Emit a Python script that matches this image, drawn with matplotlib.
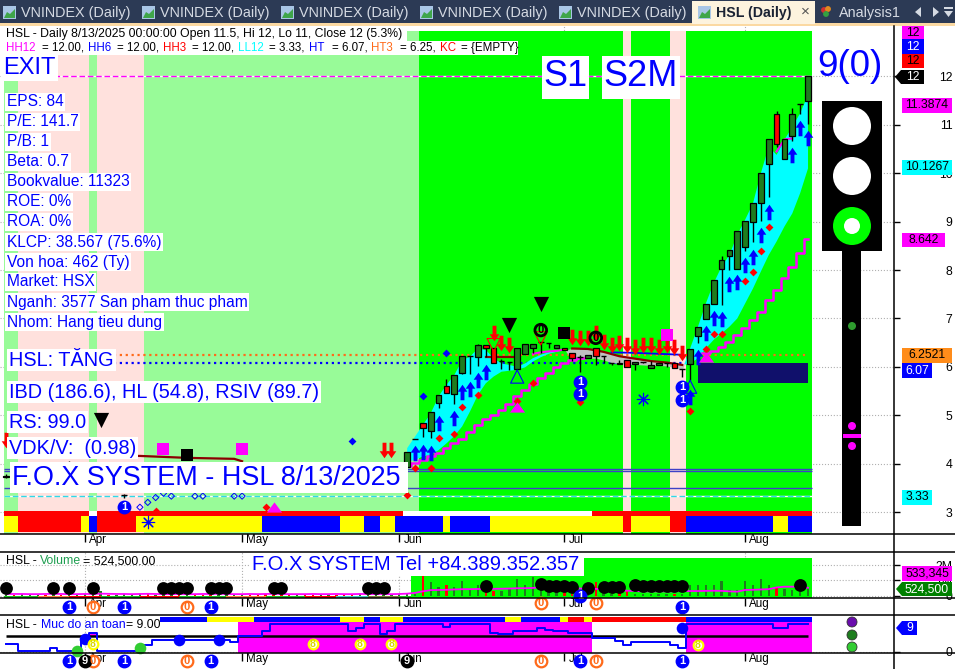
import numpy as np
import matplotlib
matplotlib.use("Agg")
import matplotlib.pyplot as plt
from matplotlib.patches import Rectangle, Circle, Polygon
from matplotlib.transforms import ScaledTranslation

plt.rcParams['font.family'] = ['Liberation Sans', 'DejaVu Sans']

# bars, oldest first (index 0 .. 102)
opens = [3.72,3.75,3.70,3.68,3.70,3.72,3.70,3.75,3.80,3.74,3.80,3.82,3.85,3.90,3.78,3.35,
         3.50,3.55,3.60,3.58,3.62,3.65,3.68,3.66,3.70,3.68,3.66,3.64,3.66,3.68,3.70,3.72,
         3.70,3.68,3.66,3.64,3.62,3.60,3.62,3.60,3.58,3.60,3.62,3.60,3.58,3.56,3.58,3.60,
         3.62,3.65,3.70,
         3.94,4.52,4.85,4.68,5.26,5.60,5.44,5.88,6.22,6.21,6.45,6.38,6.12,6.11,5.95,6.27,
         6.38,6.52,6.49,6.38,6.38,6.28,6.20,6.19,6.38,6.22,6.09,6.09,6.14,6.05,6.11,5.98,
         6.03,6.07,6.09,5.95,6.05,6.63,6.98,7.29,8.03,8.30,8.03,8.48,9.00,9.38,10.20,11.22,
         10.30,10.76,11.44,11.50]
closes = [3.75,3.70,3.72,3.70,3.72,3.70,3.75,3.72,4.02,3.80,3.82,3.85,4.00,3.78,3.80,3.35,
          3.55,3.60,3.58,3.62,3.65,3.68,3.66,3.70,3.68,3.66,3.64,3.66,3.68,3.70,3.72,3.70,
          3.68,3.66,3.64,3.62,3.60,3.62,3.60,3.58,3.60,3.62,3.60,3.58,3.56,3.58,3.60,3.62,
          3.65,3.70,3.75,
          4.24,4.52,4.73,5.06,5.41,5.47,5.83,6.22,6.22,6.45,6.38,6.09,6.12,6.11,6.38,6.48,
          6.48,6.52,6.49,6.45,6.34,6.18,6.20,6.24,6.22,6.22,6.09,6.05,6.00,6.11,6.11,6.03,
          6.07,6.07,5.98,5.95,6.36,6.83,7.29,7.79,8.20,8.41,8.80,9.01,9.38,10.00,10.70,10.60,
          10.70,11.22,11.44,12.00]
highs = [3.78,3.78,3.74,3.72,3.74,3.74,3.78,3.78,4.05,3.84,3.86,3.90,4.04,3.93,3.84,3.38,
         3.58,3.63,3.63,3.65,3.68,3.70,3.70,3.72,3.72,3.70,3.68,3.68,3.70,3.72,3.74,3.74,
         3.72,3.70,3.68,3.66,3.64,3.64,3.64,3.62,3.62,3.64,3.64,3.62,3.60,3.60,3.62,3.64,
         3.68,3.72,3.78,
         4.24,4.52,4.85,5.06,5.41,5.75,5.83,6.22,6.22,6.47,6.45,6.38,6.16,6.11,6.38,6.48,
         6.48,6.52,6.49,6.45,6.38,6.28,6.25,6.24,6.38,6.22,6.09,6.14,6.14,6.11,6.11,6.12,
         6.07,6.07,6.09,5.95,6.36,6.83,7.29,7.79,8.29,8.41,8.80,9.01,9.38,10.00,10.70,11.28,
         10.70,11.34,11.44,12.00]
lows = [3.70,3.68,3.68,3.66,3.68,3.68,3.68,3.70,3.78,3.72,3.78,3.80,3.83,3.76,3.76,3.30,
        3.48,3.53,3.56,3.56,3.60,3.63,3.64,3.64,3.66,3.64,3.62,3.62,3.64,3.66,3.68,3.68,
        3.66,3.64,3.62,3.60,3.58,3.58,3.58,3.56,3.56,3.58,3.58,3.56,3.54,3.54,3.56,3.58,
        3.60,3.63,3.68,
        3.94,4.52,4.56,4.54,5.16,5.47,5.23,5.85,5.85,6.02,6.20,6.09,5.96,5.94,5.95,6.27,
        6.28,6.28,6.38,6.38,6.34,6.12,5.89,6.19,6.04,6.07,6.04,6.05,6.00,5.94,6.07,5.98,
        6.03,5.99,5.98,5.80,5.73,6.50,6.98,7.29,7.28,8.00,8.03,8.39,8.57,9.02,9.52,10.54,
        10.30,10.67,11.23,11.02]

# cloud, starts at bar 51
cloud_start = 51
cloud_fast = [4.32,4.56,4.80,5.04,5.39,5.63,5.83,6.14,6.21,6.38,6.35,6.18,6.07,6.04,6.00,6.07,
              6.18,6.25,6.30,6.33,6.36,
              6.14,6.16,6.18,6.18,6.14,6.09,6.07,6.06,6.05,6.04,6.03,6.03,6.02,5.99,5.94,
              6.38,6.83,7.31,7.73,8.07,8.31,8.73,9.04,9.38,10.00,10.55,10.38,10.69,10.96,11.24,11.62]
cloud_slow = [4.04,4.08,4.15,4.18,4.28,4.42,4.57,4.77,5.08,5.42,5.66,5.80,5.90,5.92,5.94,5.99,
              6.11,6.20,6.27,6.31,6.35,
              6.38,6.38,6.37,6.35,6.31,6.27,6.22,6.20,6.17,6.14,6.12,6.11,6.09,6.07,6.04,
              6.07,6.18,6.38,6.56,6.69,6.83,7.00,7.31,7.62,7.97,8.31,8.59,8.90,9.17,9.59,10.10]

# stair line, same start as the cloud
stair = [3.95,4.01,4.08,4.15,4.23,4.32,4.42,4.50,4.66,4.80,4.92,5.01,5.11,5.23,5.39,5.52,5.65,
         5.76,5.87,6.00,6.07,6.14,6.18,
         np.nan,np.nan,np.nan,np.nan,np.nan,np.nan,np.nan,np.nan,np.nan,np.nan,np.nan,np.nan,np.nan,np.nan,np.nan,
         6.29,6.32,6.42,6.52,6.66,6.80,6.97,7.14,7.38,7.59,7.83,8.07,8.36,8.64]

brown_x = [1,8,17,23,29,30]
brown_y = [4.18,4.17,4.16,4.12,4.10,4.05]
brown2_x = [61,62,63,64,65]
brown2_y = [6.21,6.21,6.21,6.21,6.21]
brown3_x = [72,74,76,78,80,82,84,86]
brown3_y = [6.38,6.37,6.31,6.22,6.17,6.12,6.09,6.04]
top_ma_x = [67,68,69,70,71,98,99,100]
top_ma_y = [6.27,6.30,6.32,6.33,6.36,10.45,10.70,10.72]
blue_line_x = [77,80,83,86]
blue_line_y = [6.30,6.29,6.27,6.25]

hi_level = 12.0
orange_level = 6.25
blue_level = 6.07
ll12_level = 3.33
thin_levels = [3.89,3.84,3.50]
navy_x = [88,102]
navy_lo = 5.67
navy_hi = 6.07

# signal markers
up_arrow_x = [52,53,54,55,57,58,59,60,61,87,88,89,90,91,92,93,94,95,96,97,100,101,102]
up_arrow_y = [4.23,4.25,4.23,4.85,4.94,5.49,5.55,5.72,5.90,5.38,6.20,6.69,7.00,6.98,7.71,7.75,8.10,8.27,8.72,9.21,10.37,10.93,10.72]
down_arrow_x = [0,48,49,62,63,64,72,73,74,75,76,77,78,79,80,81,82,83,84,85,86]
down_arrow_y = [4.49,4.28,4.28,6.69,6.49,6.45,6.62,6.59,6.59,6.69,6.52,6.45,6.49,6.45,6.42,6.45,6.45,6.42,6.45,6.42,6.29]
red_dot_x = [19,33,51,52,54,55,57,58,60,65,67,73,87,89,90,91,94,95,96,97]
red_dot_y = [3.02,3.10,3.35,3.92,3.92,4.53,4.61,5.18,5.41,5.30,5.67,5.28,5.08,6.37,6.68,6.67,7.78,7.95,8.40,8.90]
blue_dot_x = [44,53,56]
blue_dot_y = [4.47,5.39,6.29]
hollow_x = [17,18,19,20,21,24,25,29,30]
hollow_y = [3.10,3.20,3.30,3.39,3.33,3.33,3.33,3.33,3.33]
mag_tri_x = [34,65,89]
mag_tri_y = [3.10,5.18,6.21]
blue_tri_x = [65,87]
blue_tri_y = [5.80,5.59]
red_tri_x = [62,68]
red_tri_y = [6.45,6.59]
black_tri_x = [12,64,68]
black_tri_y = [4.90,6.87,7.30]
black_sq_x = [23,71]
black_sq_y = [4.18,6.71]
mag_sq_x = [20,30,84]
mag_sq_y = [4.30,4.30,6.66]
one_x = [15,73,73,86,86]
one_y = [3.10,5.69,5.43,5.59,5.32]
zero_x = [68,75]
zero_y = [6.76,6.60]
star_x = [18,81]
star_y = [2.80,5.33]

# volume in millions
volumes = [0.08,0.06,0.10,0.07,0.05,0.09,0.12,0.06,0.08,0.05,0.10,0.07,0.30,0.08,0.06,0.10,0.07,
           0.12,0.15,0.08,0.06,0.05,0.09,0.07,0.06,0.08,0.10,0.12,0.09,0.07,0.06,0.08,0.05,0.10,
           0.12,0.08,0.07,0.06,0.05,0.09,0.06,0.07,0.08,0.05,0.06,0.10,0.08,0.07,0.09,0.06,0.10,
           0.15,0.10,1.30,0.90,0.60,0.70,0.60,0.95,0.40,0.70,0.24,0.32,0.32,0.50,1.10,0.70,1.20,
           0.90,0.80,0.60,0.20,0.15,0.20,0.30,0.90,0.20,0.15,0.30,0.30,0.15,0.10,0.15,0.10,0.10,
           0.10,0.15,0.70,0.70,0.70,0.70,0.97,0.39,0.39,0.97,0.70,1.10,0.70,0.50,0.45,0.39,0.24,0.52]
vol_ma = [0.13,0.13,0.13,0.12,0.12,0.13,0.14,0.13,0.12,0.12,0.13,0.13,0.15,0.14,0.13,0.13,0.12,
          0.13,0.14,0.13,0.12,0.12,0.13,0.12,0.12,0.13,0.13,0.14,0.13,0.12,0.12,0.13,0.12,0.13,
          0.14,0.13,0.12,0.12,0.12,0.13,0.12,0.12,0.13,0.12,0.12,0.13,0.13,0.12,0.13,0.12,0.13,
          0.15,0.20,0.30,0.38,0.39,0.40,0.42,0.44,0.44,0.45,0.45,0.46,0.47,0.48,0.50,0.50,0.52,
          0.55,0.56,0.58,0.55,0.50,0.48,0.46,0.46,0.42,0.38,0.36,0.34,0.32,0.30,0.30,0.30,0.30,
          0.30,0.32,0.32,0.32,0.33,0.34,0.33,0.30,0.28,0.39,0.40,0.42,0.44,0.55,0.60,0.60,0.58,0.53]
vol_dot_x = [0,6,8,11,20,21,22,23,26,27,28,34,35,46,47,48,61,68,69,70,71,72,74,76,77,78,80,81,82,83,84,85,86,101]
vol_dot_y = [0.52,0.52,0.52,0.52,0.52,0.52,0.52,0.52,0.52,0.52,0.52,0.52,0.52,0.52,0.52,0.52,
             0.65,0.75,0.65,0.65,0.65,0.60,0.52,0.60,0.60,0.60,0.70,0.65,0.65,0.65,0.65,0.65,0.65,0.72]

# safety level
muc = [2.4,2.4,0.2,0.2,0.2,0.2,1.3,0.2,0.2,0.2,4.3,6.3,0.2,0.2,0.2,0.2,0.2,0.2,2.1,4.0,4.0,4.0,
       4.0,4.0,4.0,4.0,4.0,4.0,4.0,3.2,5.2,5.2,5.2,6.8,9,9,9,9,9,9,9,9,9,9,6.8,7.7,9,9,5.9,6.8,9,
       9,9,9,9,9,8,9,9,9,9,9,6.1,5.7,5.7,6.8,6.8,6.8,7.9,7.0,6.8,6.8,6.1,6.1,6.1,4.4,4.4,4.4,3.5,
       2.2,3.3,3.3,3.3,3.3,3.3,2.2,1.1,9,9,9,9,9,9,9,9,9,9,9,7.9,7.9,9,9,9]
muc_level = 5.2
muc_big_x = [10,22,27,86]
muc_big_y = [4.3,4.0,4.0,7.7]
muc_green_x = [9,17]
muc_green_y = [0.2,1.3]
muc_eight_x = [11,39,45,49,88]
muc_eight_y = [2.4,2.4,2.4,2.4,2.2]

month_pos = [10,30,50,71,94]
month_lab = ['Apr','May','Jun','Jul','Aug']
price_ticks = [3,4,5,6,7,8,9,10,11,12]

PINK = '#FFE1DD'
PALE = '#98FB98'
LIME = '#00FF00'
YEL = '#FFFF00'
BLUE = '#0000FF'
RED = '#FF0000'
MAG = '#FF00FF'
ORANGE = '#FF6A1A'

band_edges = [-0.3,1.5,10.5,11.5,17.5,52.5,78.5,79.5,84.5,86.5,102.5]
band_colors = [PALE,PINK,PALE,PINK,PALE,LIME,PINK,LIME,PINK,LIME]
strip1_edges = [-0.3,10.5,11.5,50.5,74.5,102.5]
strip1_colors = [RED,'white',RED,'white',RED]
strip2_edges = [-0.3,1.5,9.5,10.5,11.5,16.5,32.5,42.5,45.5,47.5,49.5,55.5,56.5,61.5,78.5,79.5,84.5,86.5,97.5,99.5,102.5]
strip2_colors = [YEL,RED,YEL,BLUE,RED,YEL,BLUE,YEL,BLUE,YEL,BLUE,YEL,BLUE,YEL,RED,YEL,RED,BLUE,YEL,BLUE]
vol_strip_edges = [-0.3,4,8,12,17,22,28,33,38,42,46,50,51.5]
vol_strip_colors = ['#1FBF1F','#FF8040',RED,'#1FBF1F',RED,'#1FBF1F','#FF8040','#1FBF1F',RED,'#40D0C0','#808040','#1FBF1F']
muc_ribbon_edges = [19.5,25.5,31.5,42.5,45.5,47.5,50.5,63.5,65.5,70.5,71.5,73.5,74.5,86.5,102.5]
muc_ribbon_colors = [BLUE,YEL,BLUE,YEL,BLUE,YEL,BLUE,YEL,BLUE,YEL,RED,YEL,RED,BLUE]
muc_fill_edges = [29.5,74.5,86.5,102.5]
muc_fill_colors = [MAG,'white',MAG]

ARROW_UP = [(0,1),(0.62,0.1),(0.25,0.1),(0.25,-1),(-0.25,-1),(-0.25,0.1),(-0.62,0.1)]
ARROW_DOWN = [(x,-y) for x,y in ARROW_UP]
FLAT_TRI = [(-1,-0.67),(1,-0.67),(0,0.67)]

W, H = 955, 669
fig = plt.figure(figsize=(W/100, H/100), dpi=100)
label_shift = ScaledTranslation(3/72, 0, fig.dpi_scale_trans)


def panel(top, bottom):
    ax = fig.add_axes([0, 1-bottom/H, 894/W, (bottom-top)/H])
    ax.set_xlim(-0.80, 112.94)
    for s in ax.spines.values():
        s.set_visible(False)
    ax.yaxis.tick_right()
    ax.set_axisbelow(True)
    ax.grid(ls=':', color='#B0B0B0', lw=0.8)
    ax.set_xticks(month_pos)
    ax.set_xticklabels(month_lab)
    ax.tick_params(axis='x', length=6, width=1, labelsize=8.4, pad=-6)
    for t in ax.get_xticklabels():
        t.set_ha('left')
        t.set_transform(t.get_transform() + label_shift)
    return ax


def runs(ax, edges, colors, y0, y1, z=1):
    for i in range(len(colors)):
        ax.bar(edges[i], y1-y0, width=edges[i+1]-edges[i], bottom=y0, align='edge',
               color=colors[i], lw=0, zorder=z)


def digits(ax, x, y, txt, fc, ec, tc, s=70, fs=8, lw=1.6, trans=None, z=8):
    kw = dict(clip_on=False, zorder=z)
    if trans is not None:
        kw['transform'] = trans
    ax.scatter(x, y, s=s, c=fc, edgecolors=ec, linewidths=lw, **kw)
    for a, b in zip(x, y):
        ax.text(a, b, txt, color=tc, fontsize=fs, fontweight='bold', ha='center', va='center',
                clip_on=False, zorder=z+1, **({'transform': trans} if trans is not None else {}))


# ------ price panel
ax = panel(26, 534)
ax.set_ylim(2.547, 13.043)
ax.set_yticks(price_ticks)
ax.tick_params(axis='y', length=4, labelsize=8.8, pad=38, width=1)
for t in ax.get_yticklabels():
    t.set_ha('right')
runs(ax, band_edges, band_colors, 2.55, 12.94)
runs(ax, strip1_edges, strip1_colors, 2.92, 3.02, z=2)
runs(ax, strip2_edges, strip2_colors, 2.59, 2.92, z=2)

ax.hlines(hi_level, -0.3, 102.5, color='white', lw=1, zorder=2)
ax.hlines(hi_level, -0.3, 102.5, color=MAG, lw=1, ls=(0, (4, 2)), zorder=2)
ax.hlines(ll12_level, -0.3, 102.5, color='white', lw=1, zorder=2)
ax.hlines(ll12_level, -0.3, 102.5, color='#30D8E8', lw=1, ls=(0, (4, 2)), zorder=2)
ax.hlines(thin_levels, -0.3, 102.5, color='#4040C8', lw=1, zorder=2)
ax.hlines(orange_level, 13, 102, color=ORANGE, lw=1.6, ls=':', zorder=2)
ax.hlines(blue_level, 13, 88, color=BLUE, lw=1.6, ls=':', zorder=2)
ax.bar(navy_x[0], navy_hi-navy_lo, width=navy_x[1]-navy_x[0], bottom=navy_lo, align='edge', color='#10106B', lw=0, zorder=3)

xs = np.arange(len(closes))
cx = xs[cloud_start:]
fast = np.array(cloud_fast)
slow = np.array(cloud_slow)
ax.fill_between(cx, fast, slow, where=fast >= slow, color='#00FFFF', lw=0, zorder=3, interpolate=True)
ax.fill_between(cx, fast, slow, where=fast <= slow, color='#C0C0C0', lw=0, zorder=3, interpolate=True)
ax.plot(cx, stair, color=MAG, lw=1.8, drawstyle='steps-mid', zorder=4)
ax.plot(top_ma_x[:5], top_ma_y[:5], color=MAG, lw=1.5, zorder=4)
ax.plot(top_ma_x[5:], top_ma_y[5:], color=MAG, lw=1.5, zorder=4)
ax.plot(brown_x, brown_y, color='#8B0000', lw=1.6, zorder=4)
ax.plot(brown2_x, brown2_y, color='#8B0000', lw=1.6, zorder=4)
ax.plot(brown3_x, brown3_y, color='#8B0000', lw=1.6, zorder=4)
ax.plot(blue_line_x, blue_line_y, color=BLUE, lw=1.3, zorder=4)

# candles
for i in xs:
    o, h, l, c = opens[i], highs[i], lows[i], closes[i]
    ax.vlines(i, l, h, color='black', lw=1, zorder=5)
    if abs(c-o) < 0.005:
        ax.hlines(c, i-0.36, i+0.36, color='black', lw=1, zorder=5)
    else:
        col = '#1E7D1E' if c > o else RED
        ax.bar(i, abs(c-o), width=0.72, bottom=min(o, c), color=col, edgecolor='black', lw=0.9, zorder=5)

ax.scatter(up_arrow_x, up_arrow_y, marker=ARROW_UP, s=125, c=BLUE, lw=0, zorder=6)
ax.scatter(down_arrow_x, down_arrow_y, marker=ARROW_DOWN, s=125, c=RED, lw=0, zorder=6)
ax.scatter(red_dot_x, red_dot_y, marker='D', s=16, c=RED, lw=0, zorder=6, clip_on=False)
ax.scatter(blue_dot_x, blue_dot_y, marker='D', s=16, c=BLUE, lw=0, zorder=6)
ax.scatter(hollow_x, hollow_y, marker='D', s=10, facecolors='none', edgecolors=BLUE, lw=0.7, zorder=6)
ax.scatter(mag_tri_x, mag_tri_y, marker=FLAT_TRI, s=120, c=MAG, lw=0, zorder=6)
ax.scatter(blue_tri_x, blue_tri_y, marker='^', s=90, facecolors='none', edgecolors=BLUE, lw=0.8, zorder=6)
ax.scatter(red_tri_x, red_tri_y, marker='v', s=90, facecolors='none', edgecolors=RED, lw=0.8, zorder=6)
ax.scatter(black_tri_x, black_tri_y, marker='v', s=120, c='black', lw=0, zorder=6)
ax.scatter(black_sq_x, black_sq_y, marker='s', s=85, c='black', lw=0, zorder=6)
ax.scatter(mag_sq_x, mag_sq_y, marker='s', s=85, c=MAG, lw=0, zorder=6)
ax.scatter(star_x, star_y, marker=(8, 2, 0), s=80, c=BLUE, lw=0.8, zorder=6)
digits(ax, one_x, one_y, '1', BLUE, BLUE, 'white')
digits(ax, zero_x, zero_y, '0', 'none', 'black', 'black', lw=2)

# ------ volume panel
vx = panel(552, 598)
vx.set_ylim(-0.13, 2.84)
vx.set_yticks([0, 1, 2])
vx.set_yticklabels(['0', '1M', '2M'])
vx.tick_params(axis='y', length=4, labelsize=8.8, pad=38, width=1)
for t in vx.get_yticklabels():
    t.set_ha('right')
vx.bar(51.5, 2.55, width=51, bottom=-0.1, align='edge', color=LIME, lw=0, zorder=1)
runs(vx, vol_strip_edges, vol_strip_colors, -0.1, 0.0, z=2)
vol_col = ['#1E7D1E' if closes[i] >= opens[i] else RED for i in xs]
vx.bar(xs, volumes, width=0.3, color=vol_col, lw=0, zorder=3)
vx.plot(xs, vol_ma, color=MAG, lw=1.3, zorder=4)
vx.scatter(vol_dot_x, vol_dot_y, s=85, c='black', lw=0, zorder=5)

# ------ safety level panel
mx = panel(615, 653)
mx.set_ylim(-0.43, 12.11)
mx.set_yticks([0])
mx.tick_params(axis='y', length=4, labelsize=8.8, pad=38, width=1)
for t in mx.get_yticklabels():
    t.set_ha('right')
runs(mx, muc_fill_edges, muc_fill_colors, -0.43, 9.8)
runs(mx, muc_ribbon_edges, muc_ribbon_colors, 9.8, 11.45, z=2)
mx.bar(10.5, 1.3, width=1, bottom=5.2, align='edge', color=MAG, lw=0, zorder=2)
mx.hlines(muc_level, 0, 102, color='black', lw=1.8, zorder=3)
mx.plot(xs, muc, color=BLUE, lw=1.4, drawstyle='steps-mid', zorder=4)
mx.scatter(muc_big_x, muc_big_y, s=70, c=BLUE, lw=0, zorder=5)
mx.scatter(muc_green_x, muc_green_y, s=70, c='#32CD32', lw=0, zorder=5, clip_on=False)
digits(mx, muc_eight_x, muc_eight_y, '8', 'white', YEL, '#D8D800', s=48, fs=7.5)

# circles that sit on the date rows
row_vol = vx.get_xaxis_transform()
row_muc = mx.get_xaxis_transform()
digits(vx, [8,15,26,73], [-0.2,-0.2,-0.2,0.05], '1', BLUE, BLUE, 'white', trans=row_vol)
digits(vx, [11,23,68,75], [-0.2,-0.2,-0.1,-0.11], '0', 'white', ORANGE, ORANGE, trans=row_vol)
digits(vx, [86], [-0.2], '1', BLUE, BLUE, 'white', trans=row_vol)
digits(mx, [8,15,26,73,86], [-0.22]*5, '1', BLUE, BLUE, 'white', trans=row_muc)
digits(mx, [11,23,68,75], [-0.22]*4, '0', 'white', ORANGE, ORANGE, trans=row_muc)
digits(mx, [10,51], [-0.22]*2, '9', 'black', 'black', 'white', trans=row_muc)

# ------ window chrome and labels, in pixels
ch = fig.add_axes([0, 0, 1, 1], zorder=20)
ch.set_xlim(0, W)
ch.set_ylim(H, 0)
ch.axis('off')
ch.patch.set_alpha(0)


def box(x0, y0, x1, y1, color, z=1):
    ch.add_patch(Rectangle((x0, y0), x1-x0, y1-y0, fc=color, ec='none', zorder=z))


def label(x, y, s, fs=8.3, color='black', bg=None, pad=1.0, ha='left', weight='normal', z=5):
    bb = dict(fc=bg, ec='none', pad=pad) if bg else None
    ch.text(x, y, s, fontsize=fs, color=color, ha=ha, va='center', bbox=bb, fontweight=weight, zorder=z)


def icon(x):
    box(x, 6, x+13, 19, '#A9C6E6', z=3)
    ch.add_patch(Polygon([(x+1, 18), (x+4, 12), (x+7, 14), (x+12, 9), (x+12, 18)], fc='#3FA64A', ec='none', zorder=4))


# tabs
box(0, 0, W, 23, '#2C3A55')
box(0, 23, W, 26, '#FBD9A2')
for x in [3, 142, 281, 420, 559]:
    icon(x)
    label(x+18, 12.5, 'VNINDEX (Daily)', fs=10.4, color='#D5DAE3')
box(692, 1, 815, 24, '#FDF3DE', z=2)
icon(698)
label(716, 12.5, 'HSL (Daily)', fs=10.2, weight='bold', color='#1A2233')
label(805, 12, '×', fs=11, color='#555555', ha='center')
ch.scatter([824, 828, 826], [10, 9, 14], s=[18, 18, 18], c=['#D23030', '#E08A20', '#35A040'], lw=0, zorder=4)
label(839, 12.5, 'Analysis1', fs=10.4, color='#D5DAE3')
ch.add_patch(Polygon([(921, 7), (921, 17), (915, 12)], fc='#D5DAE3', ec='none', zorder=4))
ch.add_patch(Polygon([(933, 7), (933, 17), (939, 12)], fc='#D5DAE3', ec='none', zorder=4))
box(944, 7, 953, 9, '#D5DAE3', z=4)
ch.add_patch(Polygon([(944, 11), (953, 11), (948.5, 17)], fc='#D5DAE3', ec='none', zorder=4))

# panel rules
for y in [534, 552, 598, 615, 653]:
    ch.plot([0, W], [y, y], color='black', lw=1.1, zorder=2)
ch.plot([894, 894], [26, H], color='black', lw=1.1, zorder=2)

# header lines
box(4, 27, 407, 41, 'white', z=3)
label(6, 34, 'HSL - Daily 8/13/2025 00:00:00 Open 11.5, Hi 12, Lo 11, Close 12 (5.3%)', fs=8.8)
box(4, 41, 518, 55, 'white', z=3)
head_x = [6, 41.7, 88, 116.7, 163, 191.7, 238, 269.3, 309, 332, 371, 400, 440, 460.7]
head_s = ['HH12', '= 12.00,', 'HH6', '= 12.00,', 'HH3', '= 12.00,', 'LL12', '= 3.33,', 'HT', '= 6.07,', 'HT3', '= 6.25,', 'KC', '= {EMPTY}']
head_c = [MAG, 'black', BLUE, 'black', RED, 'black', '#00FFFF', 'black', BLUE, 'black', ORANGE, 'black', RED, 'black']
for a, b, c in zip(head_x, head_s, head_c):
    label(a, 48, b, color=c)

# big blue captions
label(3, 68, 'EXIT', fs=17, color=BLUE, bg='white', pad=1.5)
info = ['EPS: 84', 'P/E: 141.7', 'P/B: 1', 'Beta: 0.7', 'Bookvalue: 11323', 'ROE: 0%', 'ROA: 0%',
        'KLCP: 38.567 (75.6%)', 'Von hoa: 462 (Ty)', 'Market: HSX', 'Nganh: 3577 San pham thuc pham', 'Nhom: Hang tieu dung']
for n, s in enumerate(info):
    label(7, 102+20*n, s, fs=11.2, color=BLUE, bg='white', pad=1.2)
label(9, 360, 'HSL: TĂNG', fs=14.3, color=BLUE, bg='white', pad=1.5)
label(9, 392, 'IBD (186.6), HL (54.8), RSIV (89.7)', fs=14.3, color=BLUE, bg='white', pad=1.5)
label(9, 422, 'RS: 99.0', fs=14.3, color=BLUE, bg='white', pad=1.5)
label(9, 448, 'VDK/V:  (0.98)', fs=14.3, color=BLUE, bg='white', pad=1.5)
box(10, 462, 408, 493, 'white', z=3)
label(12, 478, 'F.O.X SYSTEM - HSL 8/13/2025', fs=19.4, color=BLUE)
box(542, 56, 589, 99, 'white', z=3)
label(565.5, 77, 'S1', fs=26, color=BLUE, ha='center')
box(602, 56, 680, 99, 'white', z=3)
label(641, 77, 'S2M', fs=26, color=BLUE, ha='center')
label(817, 67, '9(0)', fs=26.5, color=BLUE)
box(250, 553, 584, 576, 'white', z=3)
label(252, 565, 'F.O.X SYSTEM Tel +84.389.352.357', fs=14.5, color=BLUE)

# panel titles
label(6, 561, 'HSL -', fs=8.8)
label(40, 561, 'Volume', fs=8.8, color='#1E9E50')
label(83, 561, '= 524,500.00', fs=8.9)
label(6, 625, 'HSL -', fs=8.8)
label(41, 625, 'Muc do an toan', fs=8.8, color=BLUE)
label(126, 625, '= 9.00', fs=8.8)

# traffic light
box(822, 101, 882, 251, 'black', z=3)
box(842, 251, 861, 526, 'black', z=3)
for cy in [126, 176]:
    ch.add_patch(Circle((852, cy), 19, fc='white', ec='none', zorder=4))
ch.add_patch(Circle((852, 226), 19, fc=LIME, ec='none', zorder=4))
ch.add_patch(Circle((852, 226), 8, fc='white', ec='none', zorder=5))
ch.add_patch(Circle((852, 326), 4, fc='#2E9B2E', ec='none', zorder=5))
ch.add_patch(Circle((852, 426), 4, fc=MAG, ec='none', zorder=5))
ch.add_patch(Circle((852, 446), 4, fc=MAG, ec='none', zorder=5))
box(843, 434, 861, 438, MAG, z=5)
for cy, col in zip([622, 635, 647], ['#6A0DAD', '#1E7D1E', '#32CD32']):
    ch.add_patch(Circle((852, cy), 5, fc=col, ec='#333333', lw=0.6, zorder=5))

# right side value tags
tags = [(902, 924, 26, 39, MAG, '12', 'black'), (902, 924, 39, 54, BLUE, '12', 'white'),
        (902, 924, 54, 68, RED, '12', 'black'), (902, 952, 98, 113, MAG, '11.3874', 'black'),
        (902, 952, 160, 175, '#00FFFF', '10.1267', 'black'), (902, 945, 233, 247, MAG, '8.642', 'black'),
        (902, 952, 348, 363, '#FF8C1A', '6.2521', 'black'), (902, 932, 363, 378, BLUE, '6.07', 'white'),
        (902, 932, 490, 505, '#00FFFF', '3.33', 'black'), (902, 952, 566, 581, MAG, '533,345', 'black')]
for x0, x1, y0, y1, col, s, tc in tags:
    box(x0, y0, x1, y1, col, z=4)
    label((x0+x1)/2, (y0+y1)/2, s, fs=8.8, color=tc, ha='center')
pointers = [(895, 924, 70, 84, 'black', '12', 'white'), (896, 952, 582, 596, '#008000', '524,500', 'white'),
            (896, 917, 621, 635, BLUE, '9', 'white')]
for x0, x1, y0, y1, col, s, tc in pointers:
    ym = (y0+y1)/2
    ch.add_patch(Polygon([(x0, ym), (x0+6, y0), (x1, y0), (x1, y1), (x0+6, y1)], fc=col, ec='none', zorder=4))
    label((x0+6+x1)/2, ym, s, fs=8.8, color=tc, ha='center')

fig.savefig('out.png', dpi=100)
